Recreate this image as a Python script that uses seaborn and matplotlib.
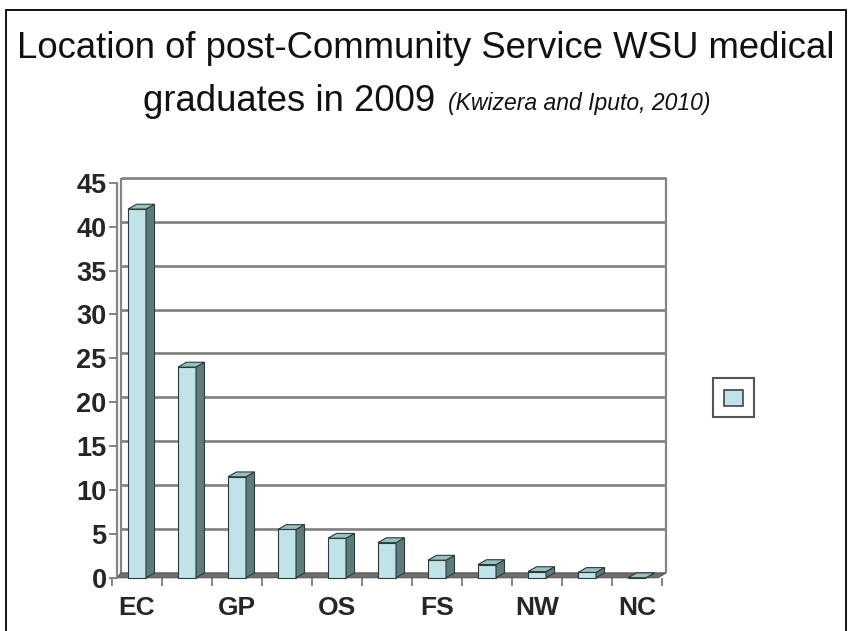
import matplotlib
matplotlib.use("Agg")
import matplotlib.pyplot as plt
from matplotlib.patches import Polygon, Rectangle, Patch
import pandas as pd
import seaborn as sns

# ---------- data ----------
regions = ["EC", "WC", "GP", "KZN", "OS", "LP", "FS", "MP", "NW", "NA", "NC"]
graduates = [42, 24, 11.5, 5.5, 4.5, 4, 2, 1.5, 0.7, 0.6, 0]
tick_labels = ["EC", "", "GP", "", "OS", "", "FS", "", "NW", "", "NC"]
yticks = list(range(0, 50, 5))

title_main = "Location of post-Community Service WSU medical"
title_line2 = "graduates in 2009"
source = "(Kwizera and Iputo, 2010)"

# ---------- style ----------
FRONT = "#bfe3e7"
SIDE = "#5e7b7b"
TOP = "#98bfc1"
EDGE = "#2e3a3a"
GRID = "#858585"
DX, DY = 0.17, 0.55          # fake 3-D depth (x in categories, y in data units)

sns.set_theme(style="white")
plt.rcParams["font.family"] = ["Liberation Sans", "DejaVu Sans"]

df = pd.DataFrame({"region": regions, "graduates": graduates})

fig = plt.figure(figsize=(8.51, 6.31), dpi=100)
ax = fig.add_axes([0.1316, 0.0761, 0.6534, 0.6482])

sns.barplot(data=df, x="region", y="graduates", color=FRONT, width=0.36,
            saturation=1, edgecolor=EDGE, linewidth=0.8, ax=ax, zorder=4)

# side + top faces from the bars seaborn drew
for p in list(ax.patches):
    x0, w, h = p.get_x(), p.get_width(), p.get_height()
    x1 = x0 + w
    ax.add_patch(Polygon([(x1, 0), (x1 + DX, DY), (x1 + DX, h + DY), (x1, h)],
                         closed=True, fc=SIDE, ec=EDGE, lw=0.8, zorder=4))
    ax.add_patch(Polygon([(x0, h), (x0 + DX, h + DY), (x1 + DX, h + DY), (x1, h)],
                         closed=True, fc=TOP, ec=EDGE, lw=0.8, zorder=4))

# back wall: gridlines + right edge
wall_l, wall_r = -0.32, 10.58
ax.hlines([t + DY for t in yticks[1:]], wall_l, wall_r, colors=GRID, lw=2, zorder=1)
ax.vlines([wall_l, wall_r], DY, yticks[-1] + DY, colors=GRID, lw=1.6, zorder=1)

# floor
ax.add_patch(Polygon([(-0.4, 0), (10.42, 0), (wall_r, DY), (wall_l, DY)],
                     closed=True, fc="#6f6f6f", ec="#555555", lw=0.8, zorder=2))

ax.set_xlim(-0.5, 10.62)
ax.set_ylim(-0.6, 46)
ax.set_xlabel("")
ax.set_ylabel("")

for s in ["top", "right"]:
    ax.spines[s].set_visible(False)
ax.spines["bottom"].set_position(("data", 0))
ax.spines["bottom"].set_visible(False)
ax.spines["left"].set_position(("data", -0.4))
ax.spines["left"].set_bounds(0, 45)
ax.spines["left"].set_color(GRID)
ax.spines["left"].set_linewidth(1.6)

ax.set_yticks(yticks)
ax.set_yticklabels([str(t) for t in yticks], fontsize=19.5, fontweight="bold")
ax.tick_params(axis="y", direction="out", length=6, width=1.4, color=GRID, pad=1.5, left=True)

ax.set_xticks(range(len(regions)))
ax.set_xticklabels(tick_labels, fontsize=19, fontweight="bold")
ax.set_xticks([i - 0.5 for i in range(len(regions) + 1)], minor=True)
ax.tick_params(axis="x", which="major", length=0, pad=13)
ax.tick_params(axis="x", which="minor", direction="out", length=6, width=1.4,
               color=GRID, bottom=True)

# legend box with an empty entry
fig.legend(handles=[Patch(facecolor=FRONT, edgecolor="#444444", lw=1.2)], labels=[""],
           loc="center", bbox_to_anchor=(0.862, 0.370), handlelength=1.4,
           handleheight=1.4, handletextpad=0, borderpad=0.8, fancybox=False,
           edgecolor="#555555", framealpha=1, fontsize=10).get_frame().set_linewidth(1.5)

# titles
fig.text(0.5, 1 - 58 / 631, title_main, ha="center", va="baseline", fontsize=26.3, color="#111111")
fig.text(143 / 851, 1 - 111 / 631, title_line2, ha="left", va="baseline", fontsize=26.3, color="#111111")
fig.text(448 / 851, 1 - 110 / 631, source, ha="left", va="baseline", fontsize=16.5,
         style="italic", color="#111111")

# outer frame
fig.patches.append(Rectangle((6 / 851, -0.05), 840 / 851, 1 - 10 / 631 + 0.05,
                             transform=fig.transFigure, fill=False, ec="black", lw=1.3))

fig.savefig("out.png", dpi=100)
